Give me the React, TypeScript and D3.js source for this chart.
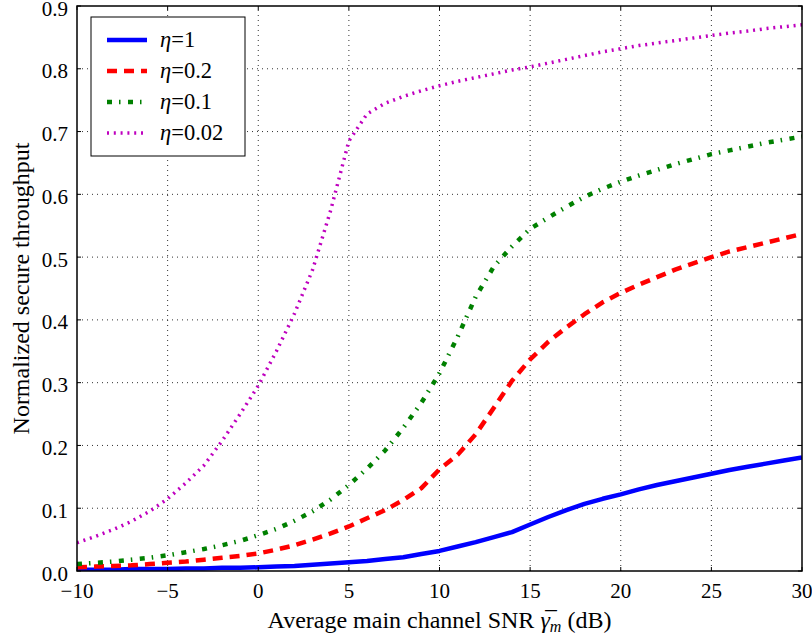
import React from 'react';
import * as d3 from 'd3';

// SNR in dB
const snr = [-10, -9, -8, -7, -6, -5, -4, -3, -2, -1, 0, 1, 2, 3, 4, 5, 6, 7, 8, 9, 10,
  11, 12, 13, 14, 15, 16, 17, 18, 19, 20, 21, 22, 23, 24, 25, 26, 27, 28, 29, 30];

const eta1 = [0.002, 0.002, 0.002, 0.003, 0.003, 0.003, 0.004, 0.004, 0.005, 0.005, 0.006,
  0.007, 0.008, 0.010, 0.012, 0.014, 0.016, 0.019, 0.022, 0.027, 0.032,
  0.039, 0.046, 0.054, 0.062, 0.074, 0.086, 0.097, 0.107, 0.115, 0.122,
  0.130, 0.137, 0.143, 0.149, 0.155, 0.161, 0.166, 0.171, 0.176, 0.181];

const eta02 = [0.006, 0.007, 0.008, 0.009, 0.011, 0.013, 0.015, 0.018, 0.021, 0.024, 0.028,
  0.034, 0.041, 0.050, 0.060, 0.071, 0.084, 0.097, 0.113, 0.132, 0.162,
  0.185, 0.218, 0.260, 0.303, 0.337, 0.365, 0.388, 0.409, 0.428, 0.443,
  0.456, 0.468, 0.480, 0.490, 0.500, 0.509, 0.516, 0.523, 0.530, 0.537];

const eta01 = [0.011, 0.013, 0.015, 0.018, 0.021, 0.025, 0.030, 0.035, 0.041, 0.048, 0.057,
  0.067, 0.080, 0.095, 0.114, 0.137, 0.163, 0.192, 0.228, 0.268, 0.315,
  0.373, 0.437, 0.485, 0.517, 0.545, 0.563, 0.580, 0.596, 0.609, 0.620,
  0.630, 0.639, 0.648, 0.656, 0.664, 0.670, 0.676, 0.682, 0.687, 0.692];

const eta002 = [0.045, 0.055, 0.066, 0.079, 0.095, 0.115, 0.140, 0.168, 0.207, 0.250, 0.295,
  0.350, 0.410, 0.480, 0.575, 0.685, 0.728, 0.745, 0.756, 0.765, 0.773,
  0.780, 0.786, 0.792, 0.798, 0.803, 0.809, 0.815, 0.821, 0.827, 0.832,
  0.837, 0.841, 0.845, 0.849, 0.853, 0.857, 0.860, 0.864, 0.867, 0.870];

const labels = ['1', '0.2', '0.1', '0.02'];
const colors = ['#0000ff', '#ff0000', '#008000', '#bf00bf'];
const dashes = ['none', '10,7', '5,7,1.5,7.5', '2,4.8'];
const widths = [4.5, 4.5, 4.5, 3.5];

const xTicks = [-10, -5, 0, 5, 10, 15, 20, 25, 30];
const yTicks = [0, 0.1, 0.2, 0.3, 0.4, 0.5, 0.6, 0.7, 0.8, 0.9];

const W = 812, H = 637;
const m = { left: 77, right: 10, top: 6, bottom: 66 };
const font = "'Liberation Serif', 'Times New Roman', serif";

export default function App() {
  const series = [eta1, eta02, eta01, eta002];

  const x = d3.scaleLinear().domain([-10, 30]).range([m.left, W - m.right]);
  const y = d3.scaleLinear().domain([0, 0.9]).range([H - m.bottom, m.top]);

  const line = d3.line<number>()
    .x((_, i) => x(snr[i]))
    .y(d => y(d));

  const fmtX = (v: number) => (v < 0 ? '\u2212' + Math.abs(v) : String(v));

  return (
    <svg width={W} height={H} style={{ position: 'absolute', left: 0, top: 0, display: 'block', fontFamily: font }}>
      <defs>
        <clipPath id="plot">
          <rect x={m.left} y={m.top} width={W - m.left - m.right} height={H - m.top - m.bottom} />
        </clipPath>
      </defs>
      <rect width={W} height={H} fill="#fff" />

      {/* grid */}
      <g stroke="#000" strokeWidth={1} strokeDasharray="1,4" opacity={0.8}>
        {xTicks.slice(1, -1).map(t => (
          <line key={'gx' + t} x1={x(t)} x2={x(t)} y1={y(0)} y2={y(0.9)} />
        ))}
        {yTicks.slice(1, -1).map(t => (
          <line key={'gy' + t} x1={x(-10)} x2={x(30)} y1={y(t)} y2={y(t)} />
        ))}
      </g>

      {/* curves */}
      <g clipPath="url(#plot)" fill="none">
        {series.map((s, i) => (
          <path key={i} d={line(s) || ''} stroke={colors[i]} strokeWidth={widths[i]}
            strokeDasharray={dashes[i]} strokeLinejoin="round" />
        ))}
      </g>

      {/* ticks */}
      <g stroke="#000" strokeWidth={1}>
        {xTicks.map(t => (
          <g key={'tx' + t}>
            <line x1={x(t)} x2={x(t)} y1={y(0)} y2={y(0) - 4} />
            <line x1={x(t)} x2={x(t)} y1={y(0.9)} y2={y(0.9) + 4} />
          </g>
        ))}
        {yTicks.map(t => (
          <g key={'ty' + t}>
            <line x1={x(-10)} x2={x(-10) + 4} y1={y(t)} y2={y(t)} />
            <line x1={x(30)} x2={x(30) - 4} y1={y(t)} y2={y(t)} />
          </g>
        ))}
      </g>

      <rect x={m.left} y={m.top} width={W - m.left - m.right} height={H - m.top - m.bottom}
        fill="none" stroke="#000" strokeWidth={1.5} />

      {/* tick labels */}
      <g fontSize={21} fill="#000">
        {xTicks.map(t => (
          <text key={'lx' + t} x={x(t)} y={597.5} textAnchor="middle">{fmtX(t)}</text>
        ))}
        {yTicks.map(t => (
          <text key={'ly' + t} x={x(-10) - 9} y={y(t) + 9.5} textAnchor="end">{t.toFixed(1)}</text>
        ))}
      </g>

      {/* axis labels */}
      <text x={(x(-10) + x(30)) / 2} y={628} fontSize={24} textAnchor="middle">
        Average main channel SNR{' '}
        <tspan fontStyle="italic">{'\u03B3\u0305'}</tspan>
        <tspan fontStyle="italic" fontSize={16} dy={4}>m</tspan>
        <tspan dy={-4}>{' (dB)'}</tspan>
      </text>
      <text transform={`translate(29,${(y(0) + y(0.9)) / 2}) rotate(-90)`} fontSize={24} textAnchor="middle">
        Normalized secure throughput
      </text>

      {/* legend */}
      <rect x={91} y={17} width={154} height={139} fill="#fff" stroke="#000" strokeWidth={1} />
      {labels.map((l, i) => {
        const ly = 40 + i * 31;
        return (
          <g key={'lg' + i}>
            <line x1={107} x2={147} y1={ly} y2={ly} stroke={colors[i]} strokeWidth={widths[i]}
              strokeDasharray={dashes[i]} />
            <text x={160} y={ly + 7} fontSize={22.5}>
              <tspan fontStyle="italic">{'\u03B7'}</tspan>={l}
            </text>
          </g>
        );
      })}
    </svg>
  );
}
